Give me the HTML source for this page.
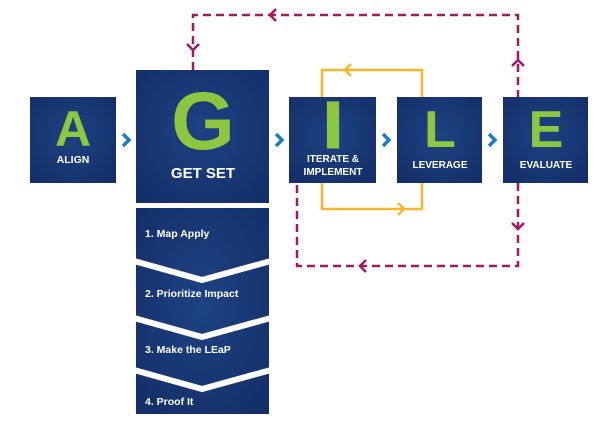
<!DOCTYPE html>
<html><head><style>
html,body{margin:0;padding:0;background:#fff;width:608px;height:423px;overflow:hidden}
svg{display:block}
text{font-family:"Liberation Sans",sans-serif;font-weight:bold}
</style></head><body>
<svg width="608" height="423" viewBox="0 0 608 423" xmlns="http://www.w3.org/2000/svg">
<defs>
<radialGradient id="g" cx="50%" cy="45%" r="65%">
<stop offset="0" stop-color="#1d4282"/><stop offset="1" stop-color="#14306a"/>
</radialGradient>
</defs>
<g fill="none" stroke="#a01a60" stroke-width="2.5" stroke-dasharray="8,5">
<polyline points="193,70 193,15 518,15 518,97"/>
<polyline points="518,183 518,266 297,266 297,183"/>
</g>
<g fill="none" stroke="#a01a60" stroke-width="2.5">
<polyline points="187,44 193,50 199,44"/>
<polyline points="276,9 270,15 276,21"/>
<polyline points="512,66 518,60 524,66"/>
<polyline points="512,223 518,229 524,223"/>
<polyline points="366,260 360,266 366,272"/>
</g>
<g fill="none" stroke="#f6b52c" stroke-width="2.5">
<polyline points="322,97 322,70 422,70 422,97"/>
<polyline points="322,183 322,209 422,209 422,183"/>
<polyline points="351,64 345,70 351,76"/>
<polyline points="398,203 404,209 398,215"/>
</g>
<rect x="30" y="97" width="86" height="86" fill="url(#g)"/>
<rect x="136" y="70" width="133" height="133" fill="url(#g)"/>
<rect x="289" y="97" width="87" height="86" fill="url(#g)"/>
<rect x="397" y="97" width="85" height="86" fill="url(#g)"/>
<rect x="503" y="97" width="85" height="86" fill="url(#g)"/>
<g fill="none" stroke="#1a7cc1" stroke-width="3.5">
<polyline points="123,134 129,140 123,146"/>
<polyline points="276,134 282,140 276,146"/>
<polyline points="383,134 389,140 383,146"/>
<polyline points="489,134 495,140 489,146"/>
</g>
<g fill="#8dc63f" text-anchor="middle">
<text x="73" y="146" font-size="50">A</text>
<text x="203" y="149" font-size="82">G</text>
<text x="333" y="147" font-size="64" stroke="#8dc63f" stroke-width="3">I</text>
<text x="440" y="147" font-size="52">L</text>
<text x="546" y="147" font-size="52">E</text>
</g>
<g fill="#fff" text-anchor="middle">
<text x="73" y="163" font-size="10.5">ALIGN</text>
<text x="203" y="178" font-size="15">GET SET</text>
<text x="333" y="162" font-size="10">ITERATE &amp;</text>
<text x="333" y="175" font-size="10">IMPLEMENT</text>
<text x="440" y="168" font-size="10">LEVERAGE</text>
<text x="546" y="168" font-size="10">EVALUATE</text>
</g>
<rect x="136" y="208" width="133" height="206" fill="url(#g)"/>
<g fill="none" stroke="#fff" stroke-width="6">
<polyline points="134,261 202,280 271,261"/>
<polyline points="134,318 202,337 271,318"/>
<polyline points="134,370 202,389 271,370"/>
</g>
<g fill="#fff" font-size="10.5">
<text x="145" y="237">1. Map Apply</text>
<text x="145" y="297">2. Prioritize Impact</text>
<text x="145" y="353">3. Make the LEaP</text>
<text x="145" y="405">4. Proof It</text>
</g>
</svg>
</body></html>
